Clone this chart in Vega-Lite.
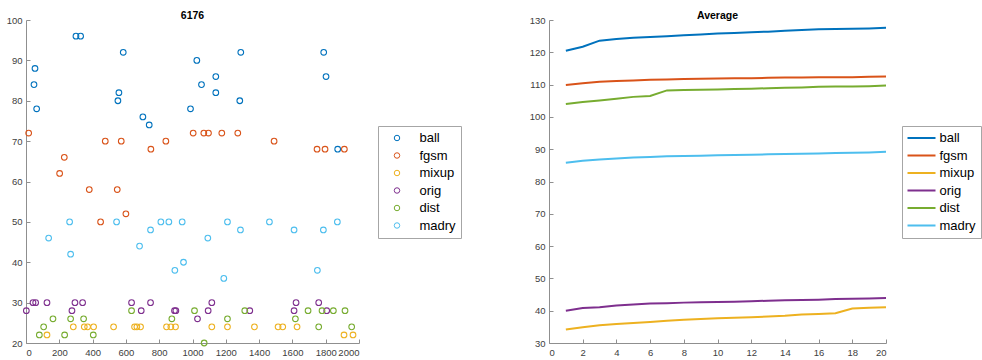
{
  "$schema": "https://vega.github.io/schema/vega-lite/v6.json",
  "padding": {"left": 6, "top": 10, "right": 0, "bottom": 0},
  "spacing": 67,
  "config": {
    "font": "Liberation Sans",
    "view": {"stroke": null},
    "axis": {
      "grid": false,
      "domainColor": "#8f8f8f",
      "tickColor": "#8f8f8f",
      "labelColor": "#404040",
      "labelFontSize": 9.5,
      "labelOverlap": false,
      "tickSize": -4,
      "labelPadding": 8,
      "domainWidth": 1,
      "tickWidth": 1,
      "title": null
    },
    "title": {"fontSize": 10.5, "fontWeight": "bold", "color": "#000000", "anchor": "middle", "frame": "group"},
    "legend": {
      "title": null,
      "orient": "none",
      "strokeColor": "#a6a6a6",
      "fillColor": "#ffffff",
      "labelFontSize": 13,
      "labelColor": "#000000",
      "padding": 4.5,
      "clipHeight": 15,
      "rowPadding": 2.5
    }
  },
  "datasets": {
    "pts": [
      {"m":"ball","x":48,"y":84},{"m":"ball","x":54,"y":88},{"m":"ball","x":64,"y":78},{"m":"ball","x":300,"y":96},{"m":"ball","x":328,"y":96},{"m":"ball","x":584,"y":92},{"m":"ball","x":558,"y":82},{"m":"ball","x":552,"y":80},{"m":"ball","x":702,"y":76},{"m":"ball","x":740,"y":74},{"m":"ball","x":988,"y":78},{"m":"ball","x":1026,"y":90},{"m":"ball","x":1054,"y":84},{"m":"ball","x":1140,"y":86},{"m":"ball","x":1140,"y":82},{"m":"ball","x":1290,"y":92},{"m":"ball","x":1284,"y":80},{"m":"ball","x":1788,"y":92},{"m":"ball","x":1802,"y":86},{"m":"ball","x":1872,"y":68},
      {"m":"fgsm","x":16,"y":72},{"m":"fgsm","x":202,"y":62},{"m":"fgsm","x":230,"y":66},{"m":"fgsm","x":380,"y":58},{"m":"fgsm","x":476,"y":70},{"m":"fgsm","x":548,"y":58},{"m":"fgsm","x":572,"y":70},{"m":"fgsm","x":750,"y":68},{"m":"fgsm","x":840,"y":70},{"m":"fgsm","x":1004,"y":72},{"m":"fgsm","x":1068,"y":72},{"m":"fgsm","x":1096,"y":72},{"m":"fgsm","x":1176,"y":72},{"m":"fgsm","x":1272,"y":72},{"m":"fgsm","x":1490,"y":70},{"m":"fgsm","x":1748,"y":68},{"m":"fgsm","x":1796,"y":68},{"m":"fgsm","x":1912,"y":68},{"m":"fgsm","x":448,"y":50},{"m":"fgsm","x":600,"y":52},
      {"m":"mixup","x":126,"y":22},{"m":"mixup","x":284,"y":24},{"m":"mixup","x":350,"y":24},{"m":"mixup","x":370,"y":24},{"m":"mixup","x":406,"y":24},{"m":"mixup","x":526,"y":24},{"m":"mixup","x":652,"y":24},{"m":"mixup","x":666,"y":24},{"m":"mixup","x":688,"y":24},{"m":"mixup","x":844,"y":24},{"m":"mixup","x":870,"y":24},{"m":"mixup","x":898,"y":24},{"m":"mixup","x":1116,"y":24},{"m":"mixup","x":1210,"y":24},{"m":"mixup","x":1372,"y":24},{"m":"mixup","x":1514,"y":24},{"m":"mixup","x":1542,"y":24},{"m":"mixup","x":1628,"y":24},{"m":"mixup","x":1910,"y":22},{"m":"mixup","x":1964,"y":22},
      {"m":"orig","x":2,"y":28},{"m":"orig","x":42,"y":30},{"m":"orig","x":58,"y":30},{"m":"orig","x":126,"y":30},{"m":"orig","x":276,"y":28},{"m":"orig","x":294,"y":30},{"m":"orig","x":340,"y":30},{"m":"orig","x":634,"y":30},{"m":"orig","x":692,"y":28},{"m":"orig","x":748,"y":30},{"m":"orig","x":892,"y":28},{"m":"orig","x":900,"y":28},{"m":"orig","x":1030,"y":26},{"m":"orig","x":1094,"y":28},{"m":"orig","x":1116,"y":30},{"m":"orig","x":1344,"y":28},{"m":"orig","x":1610,"y":28},{"m":"orig","x":1622,"y":30},{"m":"orig","x":1758,"y":30},{"m":"orig","x":1806,"y":28},
      {"m":"dist","x":80,"y":22},{"m":"dist","x":106,"y":24},{"m":"dist","x":162,"y":26},{"m":"dist","x":232,"y":22},{"m":"dist","x":268,"y":26},{"m":"dist","x":346,"y":26},{"m":"dist","x":404,"y":22},{"m":"dist","x":634,"y":28},{"m":"dist","x":876,"y":26},{"m":"dist","x":1012,"y":28},{"m":"dist","x":1070,"y":20},{"m":"dist","x":1210,"y":26},{"m":"dist","x":1314,"y":28},{"m":"dist","x":1618,"y":26},{"m":"dist","x":1694,"y":28},{"m":"dist","x":1758,"y":24},{"m":"dist","x":1778,"y":28},{"m":"dist","x":1846,"y":28},{"m":"dist","x":1916,"y":28},{"m":"dist","x":1956,"y":24},
      {"m":"madry","x":136,"y":46},{"m":"madry","x":262,"y":50},{"m":"madry","x":268,"y":42},{"m":"madry","x":544,"y":50},{"m":"madry","x":682,"y":44},{"m":"madry","x":748,"y":48},{"m":"madry","x":810,"y":50},{"m":"madry","x":858,"y":50},{"m":"madry","x":894,"y":38},{"m":"madry","x":938,"y":50},{"m":"madry","x":946,"y":40},{"m":"madry","x":1092,"y":46},{"m":"madry","x":1188,"y":36},{"m":"madry","x":1210,"y":50},{"m":"madry","x":1288,"y":48},{"m":"madry","x":1462,"y":50},{"m":"madry","x":1610,"y":48},{"m":"madry","x":1750,"y":38},{"m":"madry","x":1786,"y":48},{"m":"madry","x":1870,"y":50}
    ],
    "avg": [
      {"m":"ball","e":1,"v":120.5},{"m":"ball","e":2,"v":121.7},{"m":"ball","e":3,"v":123.6},{"m":"ball","e":4,"v":124.1},{"m":"ball","e":5,"v":124.5},{"m":"ball","e":6,"v":124.7},{"m":"ball","e":7,"v":125.0},{"m":"ball","e":8,"v":125.3},{"m":"ball","e":9,"v":125.5},{"m":"ball","e":10,"v":125.8},{"m":"ball","e":11,"v":126.0},{"m":"ball","e":12,"v":126.2},{"m":"ball","e":13,"v":126.4},{"m":"ball","e":14,"v":126.7},{"m":"ball","e":15,"v":126.9},{"m":"ball","e":16,"v":127.1},{"m":"ball","e":17,"v":127.2},{"m":"ball","e":18,"v":127.3},{"m":"ball","e":19,"v":127.4},{"m":"ball","e":20,"v":127.6},
      {"m":"fgsm","e":1,"v":109.9},{"m":"fgsm","e":2,"v":110.4},{"m":"fgsm","e":3,"v":110.9},{"m":"fgsm","e":4,"v":111.1},{"m":"fgsm","e":5,"v":111.3},{"m":"fgsm","e":6,"v":111.5},{"m":"fgsm","e":7,"v":111.6},{"m":"fgsm","e":8,"v":111.7},{"m":"fgsm","e":9,"v":111.8},{"m":"fgsm","e":10,"v":111.9},{"m":"fgsm","e":11,"v":112.0},{"m":"fgsm","e":12,"v":112.0},{"m":"fgsm","e":13,"v":112.1},{"m":"fgsm","e":14,"v":112.2},{"m":"fgsm","e":15,"v":112.2},{"m":"fgsm","e":16,"v":112.3},{"m":"fgsm","e":17,"v":112.3},{"m":"fgsm","e":18,"v":112.3},{"m":"fgsm","e":19,"v":112.4},{"m":"fgsm","e":20,"v":112.5},
      {"m":"mixup","e":1,"v":34.2},{"m":"mixup","e":2,"v":34.9},{"m":"mixup","e":3,"v":35.5},{"m":"mixup","e":4,"v":35.9},{"m":"mixup","e":5,"v":36.2},{"m":"mixup","e":6,"v":36.5},{"m":"mixup","e":7,"v":36.9},{"m":"mixup","e":8,"v":37.2},{"m":"mixup","e":9,"v":37.4},{"m":"mixup","e":10,"v":37.7},{"m":"mixup","e":11,"v":37.8},{"m":"mixup","e":12,"v":38.0},{"m":"mixup","e":13,"v":38.2},{"m":"mixup","e":14,"v":38.4},{"m":"mixup","e":15,"v":38.8},{"m":"mixup","e":16,"v":39.0},{"m":"mixup","e":17,"v":39.2},{"m":"mixup","e":18,"v":40.7},{"m":"mixup","e":19,"v":40.9},{"m":"mixup","e":20,"v":41.1},
      {"m":"orig","e":1,"v":40.0},{"m":"orig","e":2,"v":40.8},{"m":"orig","e":3,"v":41.1},{"m":"orig","e":4,"v":41.6},{"m":"orig","e":5,"v":41.9},{"m":"orig","e":6,"v":42.2},{"m":"orig","e":7,"v":42.3},{"m":"orig","e":8,"v":42.5},{"m":"orig","e":9,"v":42.6},{"m":"orig","e":10,"v":42.7},{"m":"orig","e":11,"v":42.8},{"m":"orig","e":12,"v":42.9},{"m":"orig","e":13,"v":43.1},{"m":"orig","e":14,"v":43.2},{"m":"orig","e":15,"v":43.3},{"m":"orig","e":16,"v":43.4},{"m":"orig","e":17,"v":43.6},{"m":"orig","e":18,"v":43.7},{"m":"orig","e":19,"v":43.8},{"m":"orig","e":20,"v":43.9},
      {"m":"dist","e":1,"v":104.0},{"m":"dist","e":2,"v":104.6},{"m":"dist","e":3,"v":105.1},{"m":"dist","e":4,"v":105.6},{"m":"dist","e":5,"v":106.2},{"m":"dist","e":6,"v":106.5},{"m":"dist","e":7,"v":108.2},{"m":"dist","e":8,"v":108.3},{"m":"dist","e":9,"v":108.4},{"m":"dist","e":10,"v":108.5},{"m":"dist","e":11,"v":108.6},{"m":"dist","e":12,"v":108.7},{"m":"dist","e":13,"v":108.9},{"m":"dist","e":14,"v":109.0},{"m":"dist","e":15,"v":109.1},{"m":"dist","e":16,"v":109.3},{"m":"dist","e":17,"v":109.4},{"m":"dist","e":18,"v":109.4},{"m":"dist","e":19,"v":109.5},{"m":"dist","e":20,"v":109.7},
      {"m":"madry","e":1,"v":85.8},{"m":"madry","e":2,"v":86.4},{"m":"madry","e":3,"v":86.8},{"m":"madry","e":4,"v":87.1},{"m":"madry","e":5,"v":87.4},{"m":"madry","e":6,"v":87.6},{"m":"madry","e":7,"v":87.8},{"m":"madry","e":8,"v":87.9},{"m":"madry","e":9,"v":88.0},{"m":"madry","e":10,"v":88.1},{"m":"madry","e":11,"v":88.2},{"m":"madry","e":12,"v":88.3},{"m":"madry","e":13,"v":88.4},{"m":"madry","e":14,"v":88.5},{"m":"madry","e":15,"v":88.6},{"m":"madry","e":16,"v":88.7},{"m":"madry","e":17,"v":88.8},{"m":"madry","e":18,"v":88.9},{"m":"madry","e":19,"v":89.0},{"m":"madry","e":20,"v":89.2}
    ]
  },
  "resolve": {"scale": {"color": "independent"}, "legend": {"color": "independent"}},
  "hconcat": [
    {
      "title": {"text": "6176", "offset": -6},
      "width": 333,
      "height": 323,
      "data": {"name": "pts"},
      "mark": {"type": "point", "filled": false, "size": 32, "strokeWidth": 1.1, "opacity": 1, "clip": false},
      "encoding": {
        "x": {"field": "x", "type": "quantitative", "scale": {"domain": [0, 2000], "nice": false}, "axis": {"values": [0,200,400,600,800,1000,1200,1400,1600,1800,2000], "format": "d"}},
        "y": {"field": "y", "type": "quantitative", "scale": {"domain": [20, 100], "nice": false, "zero": false}, "axis": {"values": [20,30,40,50,60,70,80,90,100]}},
        "color": {
          "field": "m", "type": "nominal",
          "scale": {"domain": ["ball","fgsm","mixup","orig","dist","madry"], "range": ["#0072BD","#D95319","#EDB120","#7E2F8E","#77AC30","#4DBEEE"]},
          "sort": ["ball","fgsm","mixup","orig","dist","madry"],
          "legend": {"legendX": 352, "legendY": 106, "symbolSize": 30, "symbolStrokeWidth": 1, "symbolOffset": 8, "labelOffset": 16}
        }
      }
    },
    {
      "title": {"text": "Average", "offset": -6},
      "width": 337,
      "height": 323,
      "data": {"name": "avg"},
      "mark": {"type": "line", "strokeWidth": 2},
      "encoding": {
        "x": {"field": "e", "type": "quantitative", "scale": {"domain": [0, 20], "nice": false}, "axis": {"values": [0,2,4,6,8,10,12,14,16,18,20]}},
        "y": {"field": "v", "type": "quantitative", "scale": {"domain": [30, 130], "nice": false, "zero": false}, "axis": {"values": [30,40,50,60,70,80,90,100,110,120,130]}},
        "color": {
          "field": "m", "type": "nominal",
          "scale": {"domain": ["ball","fgsm","mixup","orig","dist","madry"], "range": ["#0072BD","#D95319","#EDB120","#7E2F8E","#77AC30","#4DBEEE"]},
          "sort": ["ball","fgsm","mixup","orig","dist","madry"],
          "legend": {"legendX": 353, "legendY": 106, "symbolType": "stroke", "symbolSize": 784, "symbolStrokeWidth": 2, "symbolOffset": 0, "labelOffset": 3}
        }
      }
    }
  ]
}
